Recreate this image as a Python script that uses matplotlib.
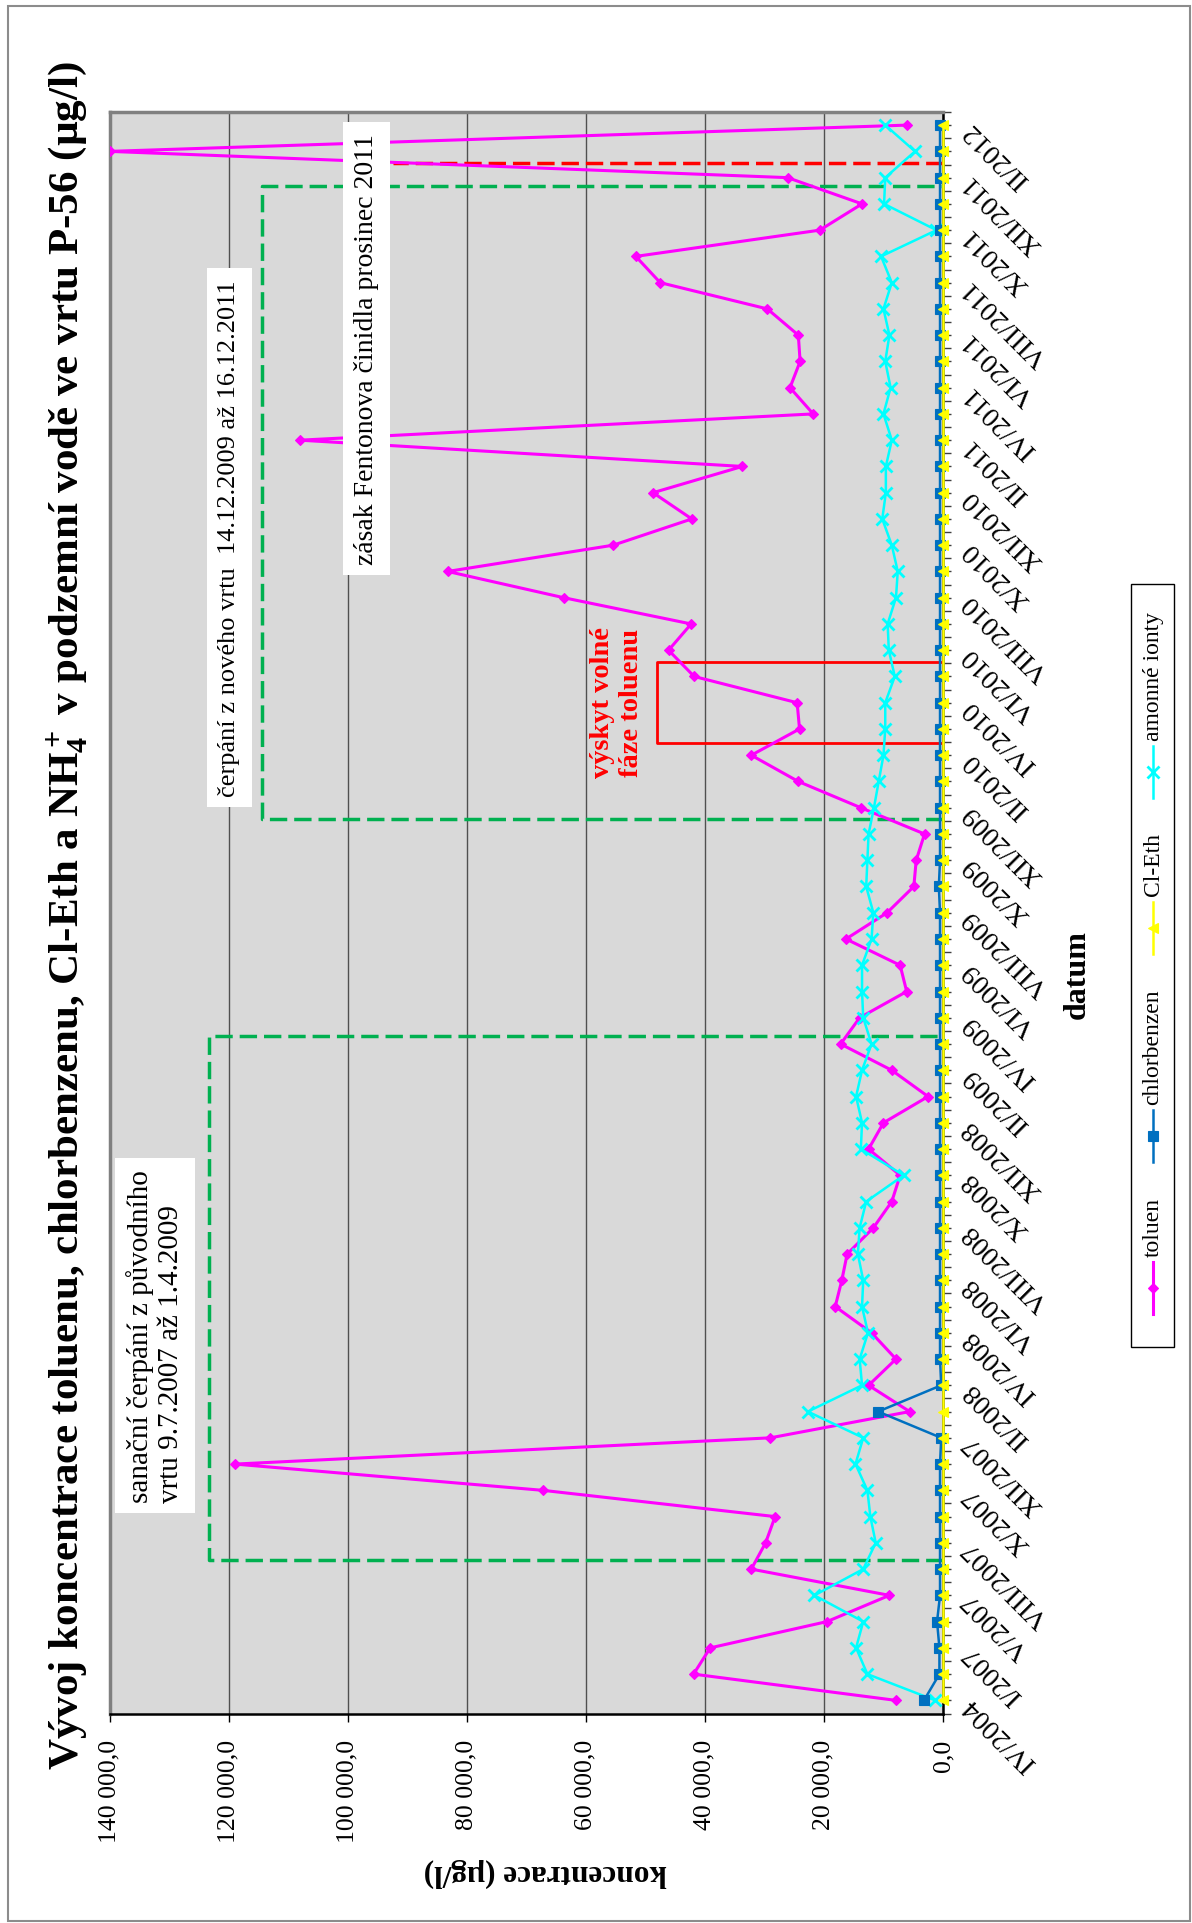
import matplotlib
matplotlib.use("Agg")
import matplotlib.pyplot as plt
from matplotlib.lines import Line2D
from matplotlib.patches import Rectangle
from matplotlib.ticker import FuncFormatter
import numpy as np

plt.rcParams["font.family"] = "Liberation Serif"
plt.rcParams["mathtext.fontset"] = "custom"
plt.rcParams["mathtext.rm"] = "Liberation Serif"
plt.rcParams["mathtext.bf"] = "Liberation Serif:bold"
plt.rcParams["mathtext.it"] = "Liberation Serif:italic"

# popisky osy datum (kazdy druhy odber)
date_labels = ["IV/2004", "I/2007", "V/2007", "VIII/2007", "X/2007", "XII/2007",
               "II/2008", "IV/2008", "VI/2008", "VIII/2008", "X/2008", "XII/2008",
               "II/2009", "IV/2009", "VI/2009", "VIII/2009", "X/2009", "XII/2009",
               "II/2010", "IV/2010", "VI/2010", "VIII/2010", "X/2010", "XII/2010",
               "II/2011", "IV/2011", "VI/2011", "VIII/2011", "X/2011", "XII/2011",
               "II/2012"]

# koncentrace (ug/l)
toluen = [7900, 41900, 39100, 19500, 9000, 32200, 29800, 28200, 67200, 118900,
          29000, 5600, 12500, 7900, 12000, 18100, 17000, 16100, 11700, 8600,
          7200, 12500, 10000, 2500, 8600, 17200, 14000, 6100, 7200, 16300,
          9400, 4900, 4500, 3100, 13800, 24300, 32200, 24100, 24500, 41800,
          46100, 42300, 63700, 83200, 55400, 42200, 48700, 33700, 108000, 21800,
          25700, 24000, 24300, 29500, 47500, 51600, 20700, 13600, 26100, 140000,
          6100]
chlorbenzen = [3200, 600, 600, 1000, 500, 500, 500, 500, 500, 500,
               300, 10900, 300, 500, 500, 500, 500, 500, 500, 500,
               500, 500, 500, 500, 500, 500, 500, 500, 500, 500,
               500, 700, 500, 500, 500, 500, 500, 500, 500, 500,
               500, 500, 500, 500, 500, 500, 500, 500, 500, 500,
               500, 500, 500, 500, 500, 500, 500, 500, 500, 500,
               500]
cl_eth = [0] * 61
amonne_ionty = [1300, 12700, 14600, 13400, 21600, 13400, 11300, 12200, 12700, 14700,
                13400, 22700, 13600, 14000, 12600, 13600, 13400, 14300, 14000, 12900,
                6600, 13800, 13600, 14600, 13600, 12000, 13400, 13600, 13600, 12000,
                11700, 12900, 12700, 12500, 11600, 10800, 10000, 9700, 9700, 8100,
                9100, 9300, 7900, 7600, 8600, 10200, 9600, 9600, 8600, 10000,
                8800, 9700, 9000, 10000, 8600, 10400, 1100, 9900, 9700, 4700,
                9700]

# nazev, data, barva, znacka, velikost znacky, tloustka cary, zorder
series = [
    ("toluen", toluen, "#ff00ff", "D", 5.5, 2.2, 4),
    ("chlorbenzen", chlorbenzen, "#0070c0", "s", 6.5, 1.8, 5),
    ("Cl-Eth", cl_eth, "#ffff00", "<", 7.5, 1.8, 6),
    ("amonné ionty", amonne_ionty, "#00ffff", "x", 9, 1.8, 4.5),
]

W, H = 1192, 1924


def fx(px):
    return px / W


def fy(py):
    return 1 - py / H


fig = plt.figure(figsize=(W / 100, H / 100), dpi=100)
fig.patches.append(Rectangle((fx(8), fy(1922)), fx(1190) - fx(8), fy(7) - fy(1922),
                             transform=fig.transFigure, fill=False,
                             edgecolor="#8c8c8c", linewidth=1.5))

ax = fig.add_axes([fx(109.5), fy(1714.5), fx(943) - fx(109.5), fy(113) - fy(1714.5)])
ax.set_facecolor("#d9d9d9")
pos = np.arange(len(toluen))

for name, vals, col, mk, ms, lw, z in series:
    ax.plot(vals, pos, color=col, lw=lw, marker=mk, markersize=ms,
            markeredgewidth=2 if mk == "x" else 0.8, markeredgecolor=col,
            label=name, zorder=z, clip_on=(name == "toluen" or name == "amonné ionty"))

ax.set_xlim(140000, 0)
ax.set_ylim(-0.5, len(toluen) - 0.5)

# mrizka a osy
ax.set_xticks(np.arange(0, 140001, 20000))
ax.xaxis.set_major_formatter(FuncFormatter(lambda v, p: f"{v:,.1f}".replace(",", " ").replace(".", ",")))
ax.grid(axis="x", color="#505050", lw=1.0)
ax.set_axisbelow(True)
ax.tick_params(axis="x", direction="out", length=6, width=1, pad=12, labelsize=18.5,
               labelrotation=90)

ax.yaxis.tick_right()
ax.set_yticks(np.arange(0, len(toluen), 2))
ax.set_yticklabels(date_labels)
ax.set_yticks(np.arange(-0.5, len(toluen), 0.5), minor=True)
ax.tick_params(axis="y", which="both", direction="out", length=6, width=1, pad=11,
               labelsize=20, color="#404040")
plt.setp(ax.get_yticklabels(), rotation=135, ha="right", va="center",
         rotation_mode="anchor")

for side in ["left", "top"]:
    ax.spines[side].set_color("#808080")
    ax.spines[side].set_linewidth(2.5)
for side in ["bottom", "right"]:
    ax.spines[side].set_color("black")
    ax.spines[side].set_linewidth(1.8)

# obdobi cerpani a zasahy
green = "#00b050"
dash = (0, (5, 2))
ax.plot([0, 123300, 123300, 0], [5.35, 5.35, 25.3, 25.3], color=green, lw=2.5,
        linestyle=dash, zorder=3)
ax.plot([0, 114400, 114400, 0], [33.56, 33.56, 57.7, 57.7], color=green, lw=2.5,
        linestyle=dash, zorder=3)
ax.plot([0, 92300], [58.56, 58.56], color="red", lw=2.5, linestyle=dash, zorder=3)
ax.plot([0, 48100, 48100, 0], [36.48, 36.48, 39.55, 39.55], color="red", lw=2, zorder=3)

box = dict(facecolor="white", edgecolor="none", pad=8)
ax.text(132400, 7.55, "sanační čerpání z původního\nvrtu 9.7.2007 až 1.4.2009",
        rotation=90, ha="center", va="bottom", fontsize=21, bbox=box, zorder=7,
        multialignment="left")
ax.text(119850, 34.45, "čerpání z nového vrtu  14.12.2009 až 16.12.2011",
        rotation=90, ha="center", va="bottom", fontsize=19, bbox=box, zorder=7)
ax.text(96800, 43.27, "zásak Fentonova činidla prosinec 2011",
        rotation=90, ha="center", va="bottom", fontsize=20, bbox=box, zorder=7)
ax.text(54700, 35.16, "výskyt volné\nfáze toluenu", rotation=90, ha="center",
        va="bottom", fontsize=20.5, fontweight="bold", color="red", zorder=7,
        multialignment="center", linespacing=1.2)

# nadpisy
fig.text(fx(67), fy(916),
         r"Vývoj koncentrace toluenu, chlorbenzenu, Cl-Eth a $\mathbf{NH_4^+}$ v podzemní vodě ve vrtu P-56 (µg/l)",
         rotation=90, ha="center", va="center", fontsize=31, fontweight="bold")
fig.text(fx(545), fy(1873), "koncentrace (µg/l)", rotation=180, ha="center",
         va="center", fontsize=22.5, fontweight="bold")
fig.text(fx(1077), fy(975), "datum", rotation=90, ha="center", va="center",
         fontsize=23, fontweight="bold")

# legenda (otocena o 90 stupnu)
renderer = fig.canvas.get_renderer()
lx = 1153
y = 1315
for name, vals, col, mk, ms, lw, z in series:
    fig.add_artist(Line2D([fx(lx), fx(lx)], [fy(y), fy(y - 52)], color=col, lw=lw,
                          transform=fig.transFigure))
    fig.add_artist(Line2D([fx(lx)], [fy(y - 26)], color=col, marker=mk, markersize=ms,
                          markeredgewidth=2 if mk == "x" else 0.8, markeredgecolor=col,
                          transform=fig.transFigure))
    t = fig.text(fx(lx), fy(y - 58), name, rotation=90, ha="center", va="bottom",
                 fontsize=17)
    bb = t.get_window_extent(renderer)
    y = H - bb.y1 - 35
leg_top = y + 35 - 27
fig.patches.append(Rectangle((fx(1131), fy(1348)), fx(1174) - fx(1131), fy(leg_top) - fy(1348),
                             transform=fig.transFigure, fill=False,
                             edgecolor="black", linewidth=1))

fig.savefig("out.png", dpi=100, facecolor="white")
